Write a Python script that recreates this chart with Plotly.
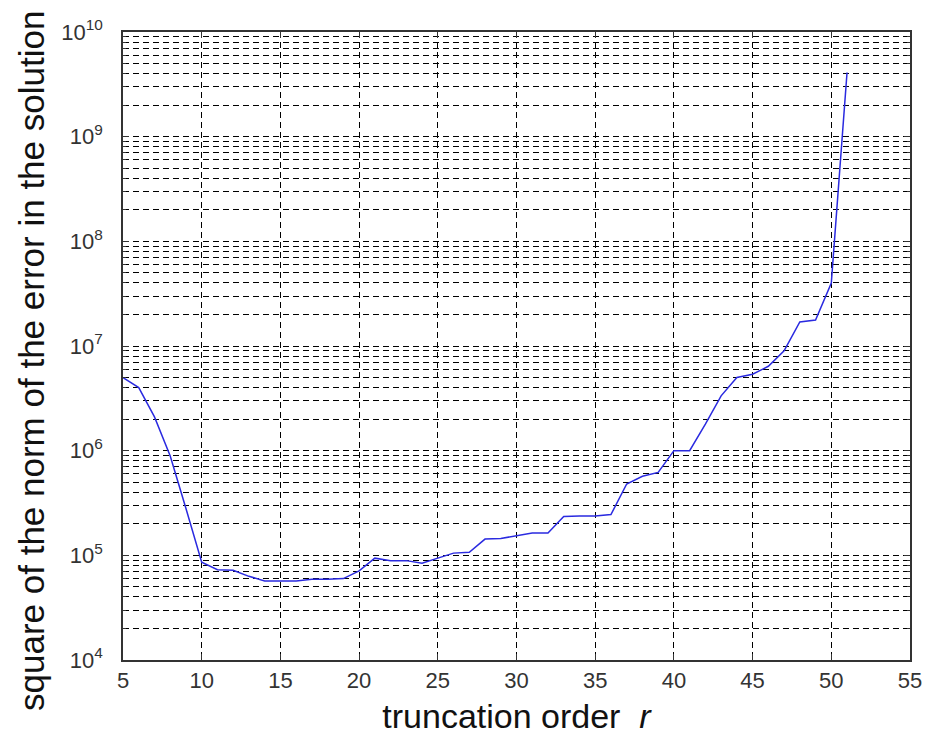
import plotly.graph_objects as go

r_vals = list(range(5, 52))
err_vals = [5.0e6, 4.0e6, 2.1e6, 8.9e5, 2.8e5, 8.6e4, 7.3e4, 7.2e4, 6.3e4, 5.7e4,
            5.7e4, 5.7e4, 5.9e4, 5.9e4, 6.0e4, 7.1e4, 9.4e4, 8.9e4, 8.9e4, 8.4e4,
            9.4e4, 1.05e5, 1.07e5, 1.43e5, 1.45e5, 1.53e5, 1.63e5, 1.63e5, 2.35e5, 2.37e5,
            2.37e5, 2.45e5, 4.8e5, 5.7e5, 6.2e5, 1.0e6, 1.0e6, 1.79e6, 3.34e6, 5.0e6,
            5.37e6, 6.4e6, 9.0e6, 1.7e7, 1.77e7, 4.0e7, 4.1e9]

x_ticks = [5, 10, 15, 20, 25, 30, 35, 40, 45, 50, 55]
decades = [4, 5, 6, 7, 8, 9, 10]
y_title = "square of the norm of the error in the solution"
x_title = "truncation order  <i>r</i>"

y_tickvals = [10 ** d for d in decades]
y_ticktext = [f"10<sup>{d}</sup>" for d in decades]
y_minorvals = [k * 10 ** d for d in decades[:-1] for k in range(2, 10)]

fig = go.Figure()
fig.add_trace(go.Scatter(x=r_vals, y=err_vals, mode="lines",
                         line=dict(color="#2a2ae0", width=1.5), showlegend=False))

fig.update_layout(
    width=934, height=745,
    margin=dict(l=123, r=16, t=32, b=85),
    paper_bgcolor="white", plot_bgcolor="white",
    font=dict(family="Liberation Sans, Arial, sans-serif", color="#222222"),
)
fig.update_xaxes(
    range=[5, 55], tickvals=x_ticks, ticktext=[str(v) for v in x_ticks],
    showgrid=True, gridcolor="black", griddash="6px,4px", gridwidth=1,
    showline=True, linecolor="#333333", linewidth=1.5, mirror="ticks",
    ticks="inside", ticklen=6, tickcolor="#333333",
    tickfont=dict(size=22, color="#333333"), ticklabelstandoff=0,
    title=dict(text=x_title, font=dict(size=34, color="#111111"), standoff=12),
    zeroline=False,
)
fig.update_yaxes(
    type="log", range=[4, 10], tickvals=y_tickvals, ticktext=y_ticktext,
    showgrid=True, gridcolor="black", griddash="6px,4px", gridwidth=1,
    showline=True, linecolor="#333333", linewidth=1.5, mirror="ticks",
    ticks="inside", ticklen=6, tickcolor="#333333",
    tickfont=dict(size=22, color="#333333"), ticklabelstandoff=14,
    minor=dict(tickvals=y_minorvals, showgrid=True, gridcolor="black",
               griddash="6px,4px", gridwidth=1, ticks="inside", ticklen=3,
               tickcolor="#333333"),
    zeroline=False,
)
fig.add_annotation(
    text=y_title, textangle=-90, showarrow=False,
    xref="paper", yref="paper", x=0, y=0.5, xanchor="center", yanchor="middle",
    xshift=-92, yshift=-15,
    font=dict(size=35, color="#111111"),
)

fig.write_html("out.html")
